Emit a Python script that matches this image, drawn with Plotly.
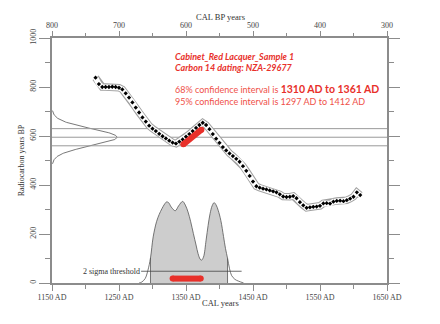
import numpy as np
import plotly.graph_objects as go

# ---------------- data ----------------
# calibration curve (cal AD, radiocarbon years BP)
cal_ad = list(range(1215, 1611, 5))
cal_bp = [838, 812, 800, 800, 800, 801, 800, 797, 790, 774,
          757, 737, 716, 696, 676, 659, 642, 630, 620, 609,
          599, 590, 581, 573, 569, 577, 586, 597, 608, 620,
          633, 645, 654, 645, 628, 608, 589, 572, 555, 541,
          529, 518, 507, 495, 477, 458, 437, 414, 395, 389,
          385, 382, 378, 374, 370, 362, 353, 351, 352, 355,
          346, 330, 317, 307, 309, 311, 312, 315, 325, 326,
          324, 332, 335, 336, 334, 338, 344, 352, 370, 359]

# measured radiocarbon age
c14_age = 595
c14_err = 35

# calibrated probability distribution (cal AD, relative height)
prob_ad = [1280, 1284, 1289, 1293, 1297, 1301, 1306, 1310, 1314, 1318,
           1321, 1324, 1328, 1334, 1339, 1345, 1349, 1353, 1357, 1361,
           1365, 1368, 1371, 1373, 1376, 1380, 1383, 1386, 1389, 1392,
           1395, 1398, 1402, 1406, 1409, 1412, 1415, 1418, 1423, 1428, 1436]
prob_h = [0, 4, 18, 50, 102, 188, 250, 280, 303, 322,
          331, 328, 310, 295, 315, 333, 318, 290, 250, 202,
          155, 120, 98, 93, 105, 175, 235, 284, 315, 328,
          318, 297, 255, 190, 140, 101, 58, 31, 15, 8, 0]

range95 = [1297, 1412]
threshold_ad = [1283, 1433]
threshold_h = 48

bar_ad = [1330, 1372]
bar_h = 18
diag_ad = [1346, 1373]
diag_bp = [566, 626]

x_range = [1150, 1650]
bp_range = [800, 300]
y_range = [0, 1000]

title1 = "Cabinet_Red Lacquer_Sample 1"
title2 = "Carbon 14 dating: NZA-29677"
ci68_label = "68% confidence interval is "
ci68_value = "1310 AD to 1361 AD"
ci95_label = "95% confidence interval is 1297 AD to 1412 AD"

# ---------------- styles ----------------
RED = "#e8302a"
RED_LIGHT = "#ef5048"
AXIS = "#8c8c8c"
TXT = "#444444"
SERIF = "Liberation Serif, Times New Roman, serif"
SANS = "Lato, Open Sans, sans-serif"

fig = go.Figure()

# gaussian of the measured age on the y axis
gy = np.linspace(c14_age - 3.1 * c14_err, c14_age + 3.1 * c14_err, 150)
gx = x_range[0] + 97 * np.exp(-((gy - c14_age) ** 2) / (2 * c14_err ** 2))
fig.add_trace(go.Scatter(x=gx, y=gy, mode="lines",
                         line=dict(color="#555555", width=0.8),
                         hoverinfo="skip", showlegend=False))

# horizontal lines: age and +-1 sigma
for v in [c14_age - c14_err, c14_age, c14_age + c14_err]:
    fig.add_trace(go.Scatter(x=x_range, y=[v, v], mode="lines",
                             line=dict(color="#999999", width=1),
                             hoverinfo="skip", showlegend=False))

# probability distribution: filled part inside 95% range
fill_x = [a for a in prob_ad if range95[0] <= a <= range95[1]]
fill_y = [h for a, h in zip(prob_ad, prob_h) if range95[0] <= a <= range95[1]]
fig.add_trace(go.Scatter(x=fill_x, y=fill_y, mode="lines", fill="tozeroy",
                         fillcolor="#cdcdcd", line=dict(color="rgba(0,0,0,0)", width=0, shape="spline"),
                         hoverinfo="skip", showlegend=False))
fig.add_trace(go.Scatter(x=[range95[0], range95[0]], y=[0, fill_y[0]], mode="lines",
                         line=dict(color="#555555", width=0.8),
                         hoverinfo="skip", showlegend=False))
fig.add_trace(go.Scatter(x=[range95[1], range95[1]], y=[0, fill_y[-1]], mode="lines",
                         line=dict(color="#555555", width=0.8),
                         hoverinfo="skip", showlegend=False))
fig.add_trace(go.Scatter(x=prob_ad, y=prob_h, mode="lines",
                         line=dict(color="#555555", width=0.8, shape="spline"),
                         hoverinfo="skip", showlegend=False))

# 2 sigma threshold
fig.add_trace(go.Scatter(x=threshold_ad, y=[threshold_h, threshold_h], mode="lines",
                         line=dict(color="#444444", width=0.8),
                         hoverinfo="skip", showlegend=False))
fig.add_annotation(x=threshold_ad[0], y=threshold_h, text="2 sigma threshold",
                   xanchor="right", yanchor="middle", showarrow=False,
                   font=dict(family=SERIF, size=8, color="#333333"), xshift=1)

# calibration curve band + points
fig.add_trace(go.Scatter(x=cal_ad, y=cal_bp, mode="lines",
                         line=dict(color="#a0a0a0", width=7.5),
                         hoverinfo="skip", showlegend=False))
fig.add_trace(go.Scatter(x=cal_ad, y=cal_bp, mode="lines",
                         line=dict(color="#ffffff", width=5.5),
                         hoverinfo="skip", showlegend=False))
fig.add_trace(go.Scatter(x=cal_ad, y=cal_bp, mode="markers",
                         marker=dict(symbol="diamond", size=3.3, color="#000000", line=dict(width=0)),
                         hoverinfo="skip", showlegend=False))

# red marks
fig.add_trace(go.Scatter(x=diag_ad, y=diag_bp, mode="lines+markers",
                         line=dict(color=RED, width=6),
                         marker=dict(size=6, color=RED, line=dict(width=0)),
                         hoverinfo="skip", showlegend=False))
fig.add_trace(go.Scatter(x=bar_ad, y=[bar_h, bar_h], mode="lines+markers",
                         line=dict(color=RED, width=6),
                         marker=dict(size=6, color=RED, line=dict(width=0)),
                         hoverinfo="skip", showlegend=False))

# empty trace on the top (CAL BP) axis so that it is drawn
fig.add_trace(go.Scatter(x=[None], y=[None], xaxis="x2", yaxis="y", mode="markers",
                         marker=dict(color=TXT), showlegend=False, hoverinfo="skip"))

# text block
tx = 1331
fig.add_annotation(x=tx, y=925, text="<b><i>" + title1 + "</i></b>", showarrow=False,
                   xanchor="left", yanchor="middle", font=dict(family=SANS, size=9, color=RED))
fig.add_annotation(x=tx, y=880, text="<b><i>" + title2 + "</i></b>", showarrow=False,
                   xanchor="left", yanchor="middle", font=dict(family=SANS, size=9, color=RED))
fig.add_annotation(x=tx, y=768,
                   text=ci68_label + "<b><span style='font-size:10.5px;color:" + RED + "'>" + ci68_value
                        + "</span></b><br>" + ci95_label,
                   showarrow=False, xanchor="left", yanchor="middle", align="left",
                   font=dict(family=SANS, size=9, color=RED_LIGHT))

# axis titles
fig.add_annotation(xref="paper", yref="paper", x=0.502, y=1.087, text="CAL BP years",
                   xanchor="center", yanchor="middle",
                   showarrow=False, font=dict(family=SERIF, size=8.5, color="#333333"))
fig.add_annotation(xref="paper", yref="paper", x=0.502, y=-0.083, text="CAL years",
                   xanchor="center", yanchor="middle",
                   showarrow=False, font=dict(family=SERIF, size=8.5, color="#333333"))
fig.add_annotation(xref="paper", yref="paper", x=-0.09, y=0.5, text="Radiocarbon years BP",
                   xanchor="center", yanchor="middle",
                   textangle=-90, showarrow=False, font=dict(family=SERIF, size=8, color="#333333"))

tickfont = dict(family=SERIF, size=8, color=TXT)
fig.update_layout(
    template="none",
    font=dict(family=SERIF, size=8, color=TXT),
    width=440, height=324,
    margin=dict(l=52, r=53, t=38, b=41, pad=0),
    paper_bgcolor="white", plot_bgcolor="white",
    showlegend=False,
    xaxis=dict(range=x_range, tick0=1150, dtick=100, ticksuffix=" AD", color=TXT,
               showgrid=False, zeroline=False, showline=True, linecolor=AXIS, linewidth=1.5,
               ticks="outside", ticklen=6, tickwidth=1, tickcolor=AXIS, tickfont=dict(tickfont),
               minor=dict(dtick=100, tick0=1200, ticklen=4, ticks="outside", tickcolor=AXIS, showgrid=False)),
    xaxis2=dict(range=bp_range, overlaying="x", side="top", anchor="y", tick0=300, dtick=100,
                color=TXT,
                showgrid=False, zeroline=False, showline=True, linecolor=AXIS, linewidth=1.5,
                ticks="outside", ticklen=5, tickwidth=1, tickcolor=AXIS, tickfont=dict(tickfont),
                minor=dict(dtick=100, tick0=350, ticklen=3, ticks="outside", tickcolor=AXIS, showgrid=False)),
    yaxis=dict(range=y_range, dtick=200, tickangle=-90, mirror="ticks", color=TXT,
               showgrid=False, zeroline=False, showline=True, linecolor=AXIS, linewidth=1.5,
               ticks="outside", ticklen=11, tickwidth=1, tickcolor=AXIS, tickfont=dict(tickfont),
               minor=dict(dtick=100, ticklen=5, ticks="outside", tickcolor=AXIS, showgrid=False)),
)

fig.write_html("out.html")
